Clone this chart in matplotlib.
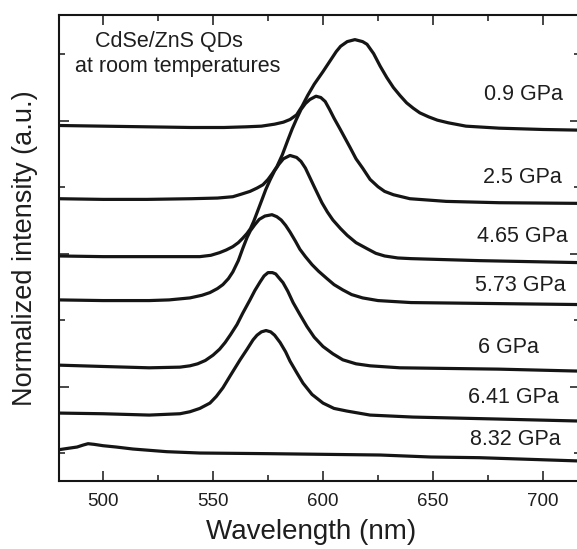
import matplotlib
matplotlib.use("Agg")
import matplotlib.pyplot as plt
from matplotlib.ticker import FixedLocator, MultipleLocator

plt.rcParams['font.family'] = ['Liberation Sans', 'DejaVu Sans']

# PL spectra, stacked with offsets (wavelength in nm, intensity in a.u.)
wl_09 = [480, 500, 520, 540, 555, 565, 572, 578, 582, 585, 588, 590.5, 593, 596, 600, 603,
         606, 608, 611, 614.5, 618, 620, 623, 626, 629, 632, 635, 638, 641, 644, 648, 652,
         657, 665, 680, 700, 717]
in_09 = [5.34, 5.33, 5.32, 5.31, 5.31, 5.32, 5.33, 5.36, 5.39, 5.43, 5.50, 5.63, 5.79, 5.96,
         6.15, 6.30, 6.45, 6.53, 6.60, 6.63, 6.60, 6.56, 6.42, 6.23, 6.06, 5.91, 5.79, 5.68,
         5.60, 5.53, 5.47, 5.42, 5.38, 5.33, 5.30, 5.28, 5.27]

wl_25 = [480, 500, 520, 540, 552, 559, 563, 566.8, 570, 572.7, 575, 577, 579, 581.5, 584,
         586, 588, 590, 592, 594, 596.8, 599, 601, 603, 605, 607.7, 610, 612.3, 615, 618,
         621.4, 625, 628, 632, 639.5, 656, 680, 717]
in_25 = [4.24, 4.23, 4.23, 4.24, 4.25, 4.27, 4.31, 4.35, 4.40, 4.45, 4.53, 4.62, 4.72, 4.90,
         5.12, 5.29, 5.44, 5.58, 5.67, 5.73, 5.78, 5.76, 5.70, 5.58, 5.45, 5.29, 5.15, 5.01,
         4.84, 4.70, 4.53, 4.42, 4.35, 4.30, 4.24, 4.20, 4.18, 4.17]

wl_465 = [480, 500, 520, 544, 549, 553, 556, 559, 561.5, 563.6, 565.5, 567, 568.5, 570,
          572.3, 574, 575.9, 578, 580, 582, 585, 588, 590, 592, 594, 596, 599.5, 602, 604.5,
          608, 611, 615, 620, 624, 628, 634, 640, 671, 717]
in_465 = [3.38, 3.37, 3.37, 3.37, 3.39, 3.43, 3.47, 3.52, 3.58, 3.65, 3.72, 3.79, 3.90, 4.03,
          4.23, 4.38, 4.52, 4.66, 4.76, 4.84, 4.89, 4.86, 4.80, 4.70, 4.56, 4.42, 4.18, 4.04,
          3.92, 3.79, 3.69, 3.58, 3.49, 3.42, 3.38, 3.35, 3.34, 3.31, 3.28]

wl_573 = [480, 500, 521, 530, 539.5, 545, 548.6, 552, 554.5, 557, 559, 561.5, 563.6, 565.5,
          567, 569, 571, 573.6, 576.8, 579, 581, 583, 585, 587.5, 589.5, 592, 595, 598, 601.8,
          605, 609, 613, 618, 625, 640, 717]
in_573 = [2.72, 2.71, 2.71, 2.72, 2.75, 2.79, 2.83, 2.89, 2.95, 3.04, 3.14, 3.31, 3.50, 3.66,
          3.76, 3.85, 3.93, 3.98, 4.00, 3.97, 3.92, 3.84, 3.74, 3.60, 3.48, 3.37, 3.25, 3.15,
          3.04, 2.95, 2.87, 2.80, 2.75, 2.71, 2.68, 2.65]

wl_600 = [480, 500, 521, 535, 539.5, 543, 546.5, 550, 553, 555.5, 558, 560.9, 563.5, 566.8,
          569, 571.4, 573.2, 575, 577, 578.5, 580, 581.8, 584, 586.4, 589.5, 592.7, 596, 600,
          604.5, 609, 615, 621.4, 635, 680, 717]
in_600 = [1.74, 1.72, 1.70, 1.71, 1.73, 1.76, 1.81, 1.89, 1.98, 2.08, 2.20, 2.35, 2.52, 2.72,
          2.86, 2.99, 3.08, 3.13, 3.13, 3.11, 3.05, 2.98, 2.85, 2.68, 2.50, 2.32, 2.16, 2.02,
          1.91, 1.82, 1.76, 1.73, 1.70, 1.68, 1.65]

wl_641 = [480, 500, 521, 535, 539.5, 544, 548.6, 551.5, 554.5, 558, 562.3, 565.5, 568.2, 570,
          572, 574.1, 576.2, 578, 580.5, 583, 585, 588, 590.9, 595, 600, 605, 610.9, 621.4,
          640.9, 680, 717]
in_641 = [1.02, 1.01, 0.99, 1.01, 1.04, 1.09, 1.17, 1.27, 1.40, 1.59, 1.82, 1.98, 2.12, 2.19,
          2.24, 2.26, 2.24, 2.19, 2.08, 1.94, 1.80, 1.63, 1.47, 1.30, 1.17, 1.09, 1.05, 0.99,
          0.96, 0.93, 0.90]

wl_832 = [480, 484, 488.2, 491, 493.2, 496, 500, 506, 513.6, 529, 544, 576, 626, 649, 671, 717]
in_832 = [0.47, 0.49, 0.51, 0.54, 0.56, 0.55, 0.53, 0.51, 0.48, 0.44, 0.42, 0.41, 0.39, 0.36,
          0.35, 0.30]

spectra = [(wl_09, in_09), (wl_25, in_25), (wl_465, in_465), (wl_573, in_573),
           (wl_600, in_600), (wl_641, in_641), (wl_832, in_832)]
pressures = ['0.9 GPa', '2.5 GPa', '4.65 GPa', '5.73 GPa', '6 GPa', '6.41 GPa', '8.32 GPa']
label_pos = [(690.9, 5.80), (690.5, 4.56), (690.5, 3.68), (689.5, 2.93),
             (684.5, 2.00), (686.4, 1.25), (687.3, 0.62)]

LINE = '#151515'
TEXT = '#1e1e1e'

fig = plt.figure(figsize=(5.77, 5.49), dpi=100)
ax = fig.add_axes([0.1023, 0.1239, 0.9036, 0.8488])

for wl, inten in spectra:
    ax.plot(wl, inten, color=LINE, lw=2.3, solid_joinstyle='round', solid_capstyle='round')

for txt, (x, y) in zip(pressures, label_pos):
    ax.text(x, y, txt, ha='center', va='center', fontsize=15.5, color=TEXT)

ax.text(529.8, 6.60, 'CdSe/ZnS QDs', ha='center', va='center', fontsize=15.5, color=TEXT)
ax.text(534.1, 6.23, 'at room temperatures', ha='center', va='center', fontsize=15.5, color=TEXT)

ax.set_xlim(480, 717)
ax.set_ylim(0, 7.0)

ax.xaxis.set_major_locator(MultipleLocator(50))
ax.xaxis.set_minor_locator(MultipleLocator(25))
ax.yaxis.set_major_locator(FixedLocator([1.41, 3.41, 5.41]))
ax.yaxis.set_minor_locator(FixedLocator([0.42, 2.42, 4.41, 6.41]))
ax.set_yticklabels([])

ax.tick_params(which='both', direction='in', top=True, right=True, width=1.1, color=LINE)
ax.tick_params(which='major', length=7.5)
ax.tick_params(which='minor', length=4)
ax.tick_params(axis='x', which='major', labelsize=13.5, pad=9, labelcolor=TEXT)

for sp in ax.spines.values():
    sp.set_linewidth(1.5)
    sp.set_color(LINE)

ax.set_xlabel('Wavelength (nm)', fontsize=20, color=TEXT)
ax.set_ylabel('Normalized intensity (a.u.)', fontsize=19.5, color=TEXT)
ax.xaxis.set_label_coords(0.483, -0.082)
ax.yaxis.set_label_coords(-0.04, 0.5)

fig.savefig('out.png', dpi=100)
